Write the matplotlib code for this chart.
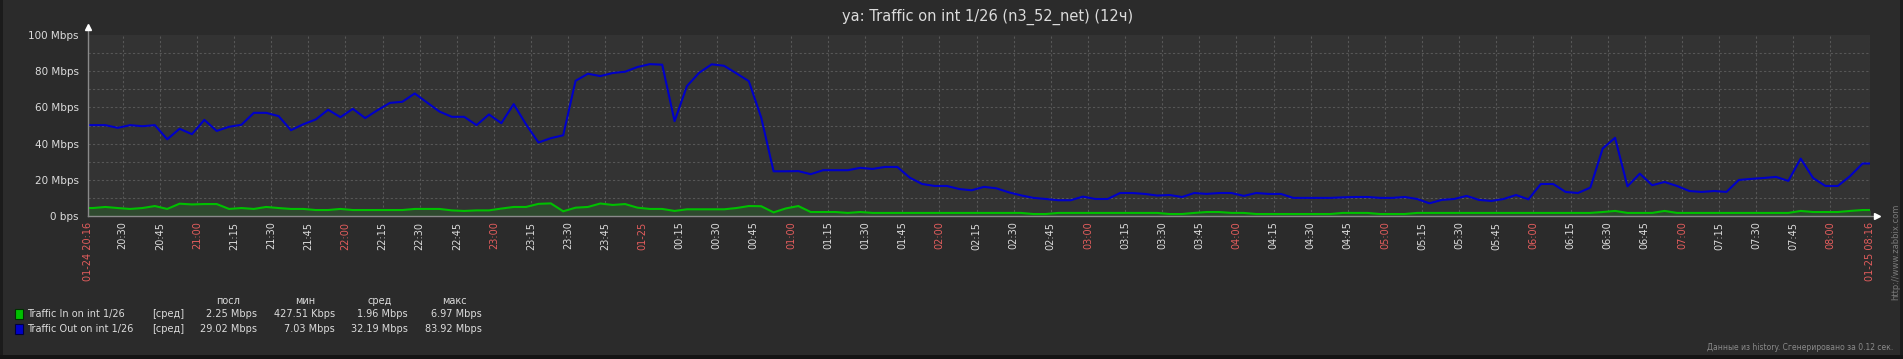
import numpy as np
import pandas as pd
import matplotlib
matplotlib.use('Agg')
import matplotlib.pyplot as plt
from matplotlib.patches import Rectangle

W, H = 1903, 359

## data: 5-minute samples from 20:13 to 08:18 (outer two are cut by the axis)
sample_start = '2024-01-24 20:13'
traffic_out = [  # Mbps
  50.2, 50.2, 50.2, 48.7, 50.2, 49.6, 50.2, 42.4, 48.2, 45.2,
  53.1, 47.0, 49.3, 50.4, 57.0, 57.0, 55.2, 47.4, 50.7, 53.3,
  58.7, 54.6, 59.2, 54.1, 58.5, 62.5, 63.1, 67.7, 62.7, 57.7,
  54.8, 54.8, 50.2, 56.1, 51.3, 61.8, 50.6, 40.6, 43.0, 44.6,
  74.7, 78.6, 77.3, 79.0, 79.7, 82.3, 83.9, 83.6, 52.4, 71.8,
  79.2, 83.8, 83.0, 78.8, 74.5, 54.4, 24.7, 24.7, 24.8, 23.1,
  25.3, 25.3, 25.3, 26.6, 26.0, 27.1, 27.1, 21.2, 17.7, 16.6,
  16.6, 14.9, 14.2, 16.1, 15.3, 13.1, 11.4, 10.0, 9.4, 8.7,
  8.7, 10.7, 9.4, 9.4, 12.7, 12.7, 12.2, 11.3, 11.6, 10.5,
  12.7, 12.2, 12.7, 12.7, 11.1, 12.7, 12.2, 12.2, 10.0, 10.0,
  10.0, 10.0, 10.3, 10.5, 10.5, 10.0, 10.0, 10.5, 9.4, 7.0,
  8.9, 9.4, 11.1, 8.9, 8.3, 9.4, 11.6, 9.2, 17.7, 17.7,
  13.3, 12.7, 15.7, 37.3, 43.2, 16.4, 23.4, 17.0, 18.8, 16.6,
  13.8, 13.3, 13.8, 13.3, 19.9, 20.5, 21.0, 21.6, 19.4, 31.7,
  21.0, 16.6, 16.6, 22.1, 29.0, 29.0]
traffic_in = [  # Mbps
  4.4, 4.4, 5.0, 4.4, 3.9, 4.4, 5.5, 3.9, 6.8, 6.4,
  6.6, 6.6, 3.9, 4.4, 3.9, 5.0, 4.4, 3.9, 3.9, 3.3,
  3.3, 3.9, 3.3, 3.3, 3.3, 3.3, 3.3, 3.9, 3.9, 3.9,
  3.1, 2.8, 3.1, 3.1, 4.1, 5.0, 5.0, 6.7, 6.97, 2.6,
  4.6, 5.0, 6.9, 6.1, 6.6, 4.6, 3.9, 3.9, 2.8, 3.7,
  3.7, 3.7, 3.7, 4.4, 5.5, 5.4, 2.0, 4.2, 5.5, 2.2,
  2.2, 2.2, 1.7, 2.2, 1.7, 1.7, 1.7, 1.7, 1.7, 1.7,
  1.7, 1.7, 1.7, 1.7, 1.7, 1.7, 1.7, 1.1, 1.1, 1.7,
  1.7, 1.7, 1.7, 1.7, 1.7, 1.7, 1.7, 1.7, 1.1, 1.1,
  1.7, 2.2, 2.2, 1.7, 1.7, 1.1, 1.1, 1.1, 1.1, 1.1,
  1.1, 1.1, 1.7, 1.7, 1.7, 1.1, 1.1, 1.1, 1.7, 1.7,
  1.7, 1.7, 1.7, 1.7, 1.7, 1.7, 1.7, 1.7, 1.7, 1.7,
  1.7, 1.7, 1.7, 2.2, 2.8, 1.7, 1.7, 1.7, 2.8, 1.7,
  1.7, 1.7, 1.7, 1.7, 1.7, 1.7, 1.7, 1.7, 1.7, 2.8,
  2.2, 2.2, 2.2, 2.8, 3.3, 3.3]

x_from = pd.Timestamp('2024-01-24 20:16')
x_to = pd.Timestamp('2024-01-25 08:16')
y_ticks = [0, 20, 40, 60, 80, 100]
y_labels = ['0 bps', '20 Mbps', '40 Mbps', '60 Mbps', '80 Mbps', '100 Mbps']

title = 'ya: Traffic on int 1/26 (n3_52_net) (12ч)'
legend_head = ['посл', 'мин', 'сред', 'макс']
legend_names = ['Traffic In on int 1/26', 'Traffic Out on int 1/26']
legend_last = ['2.25 Mbps', '29.02 Mbps']
legend_min = ['427.51 Kbps', '7.03 Mbps']
legend_avg = ['1.96 Mbps', '32.19 Mbps']
legend_max = ['6.97 Mbps', '83.92 Mbps']

## colours
bg = '#2b2b2b'
plot_bg = '#333333'
grid_c = '#575757'
axis_c = '#8a8a8a'
txt_c = '#dcdcdc'
red_c = '#e35d5d'
green = '#00c000'
blue = '#0000c8'

times = pd.date_range(sample_start, periods=len(traffic_out), freq='5min')

# x ticks every 15 min + both ends
tick_times = [x_from] + list(pd.date_range('2024-01-24 20:30', '2024-01-25 08:00', freq='15min')) + [x_to]
tick_labels = []
tick_colors = []
for i, t in enumerate(tick_times):
  if i == 0 or i == len(tick_times) - 1:
    tick_labels.append(t.strftime('%m-%d %H:%M'))
    tick_colors.append(red_c)
  elif t.hour == 0 and t.minute == 0:
    tick_labels.append(t.strftime('%m-%d'))
    tick_colors.append(red_c)
  elif t.minute == 0:
    tick_labels.append(t.strftime('%H:%M'))
    tick_colors.append(red_c)
  else:
    tick_labels.append(t.strftime('%H:%M'))
    tick_colors.append(txt_c)

def fx(px):
  return px / W

def fy(py):
  return 1 - py / H

fig = plt.figure(figsize=(W / 100, H / 100), dpi=100, facecolor=bg)

# dark frame on left / right / bottom
fig.add_artist(Rectangle((0, 0), fx(3), 1, transform=fig.transFigure, color='#1b1b1b', lw=0))
fig.add_artist(Rectangle((fx(W - 3), 0), fx(3), 1, transform=fig.transFigure, color='#1b1b1b', lw=0))
fig.add_artist(Rectangle((0, 0), 1, 4 / H, transform=fig.transFigure, color='#141414', lw=0))

x0, x1, ytop, ybot = 88, 1870, 35, 216
ax = fig.add_axes([fx(x0), fy(ybot), fx(x1 - x0), (ybot - ytop) / H])
ax.set_facecolor(plot_bg)

tn = [(t - x_from).total_seconds() / 60 for t in times]
span = (x_to - x_from).total_seconds() / 60

ax.fill_between(tn, traffic_in, 0, color='#2f4a2f', lw=0, zorder=2)
ax.plot(tn, traffic_in, color=green, lw=1.5, zorder=3, solid_joinstyle='miter')
ax.plot(tn, traffic_out, color=blue, lw=1.5, zorder=4)

ax.set_xlim(0, span)
ax.set_ylim(0, 100)

# grid
tick_pos = [(t - x_from).total_seconds() / 60 for t in tick_times]
for p in tick_pos[1:]:
  ax.axvline(p, color=grid_c, lw=0.8, ls=(0, (2, 2)), zorder=1)
for v in range(10, 100, 10):
  ax.axhline(v, color=grid_c, lw=0.8, ls=(0, (2, 2)), zorder=1)

for s in ax.spines.values():
  s.set_visible(False)

ax.set_xticks(tick_pos)
ax.set_xticklabels(tick_labels, rotation=90, fontsize=7, va='top', ha='center')
for lab, c in zip(ax.get_xticklabels(), tick_colors):
  lab.set_color(c)
ax.set_yticks(y_ticks)
ax.set_yticklabels(y_labels, fontsize=7.5, color=txt_c)
ax.tick_params(axis='x', length=0, pad=4)
ax.tick_params(axis='y', length=0, pad=6.5)

# axis lines with arrows
ax.plot([0, 0], [0, 1.044], transform=ax.transAxes, color=axis_c, lw=1, clip_on=False, zorder=5)
ax.plot([0, 1.004], [0, 0], transform=ax.transAxes, color=axis_c, lw=1, clip_on=False, zorder=5)
ax.plot([0], [1.044], transform=ax.transAxes, marker='^', ms=4, color='white', clip_on=False, zorder=6)
ax.plot([1.004], [0], transform=ax.transAxes, marker='>', ms=4, color='white', clip_on=False, zorder=6)

# title
fig.text(fx(988), fy(17), title, ha='center', va='center', fontsize=10.5, color=txt_c)

# legend
for i, name in enumerate(legend_head):
  fig.text(fx([228, 305, 380, 454][i]), fy(301), name, ha='center', va='center', fontsize=7, color=txt_c)
sq_colors = [green, blue]
sq_edges = ['#003000', '#000040']
rows_y = [314, 329]
for i in range(2):
  fig.add_artist(Rectangle((fx(15), fy(rows_y[i] + 5)), fx(8), 10 / H, transform=fig.transFigure,
                           facecolor=sq_colors[i], edgecolor=sq_edges[i], lw=0.8))
  fig.text(fx(27), fy(rows_y[i]), legend_names[i], ha='left', va='center', fontsize=7, color=txt_c)
  fig.text(fx(152), fy(rows_y[i]), '[сред]', ha='left', va='center', fontsize=7, color=txt_c)
  fig.text(fx(257), fy(rows_y[i]), legend_last[i], ha='right', va='center', fontsize=7, color=txt_c)
  fig.text(fx(335), fy(rows_y[i]), legend_min[i], ha='right', va='center', fontsize=7, color=txt_c)
  fig.text(fx(408), fy(rows_y[i]), legend_avg[i], ha='right', va='center', fontsize=7, color=txt_c)
  fig.text(fx(482), fy(rows_y[i]), legend_max[i], ha='right', va='center', fontsize=7, color=txt_c)

fig.text(fx(1896), fy(252), 'http://www.zabbix.com', rotation=90, ha='center', va='center',
         fontsize=6, color='#7a7a7a')
fig.text(fx(1893), fy(347), 'Данные из history. Сгенерировано за 0.12 сек.', ha='right', va='center',
         fontsize=5.5, color='#8a8a8a')

fig.savefig('out.png', dpi=100, facecolor=bg)
